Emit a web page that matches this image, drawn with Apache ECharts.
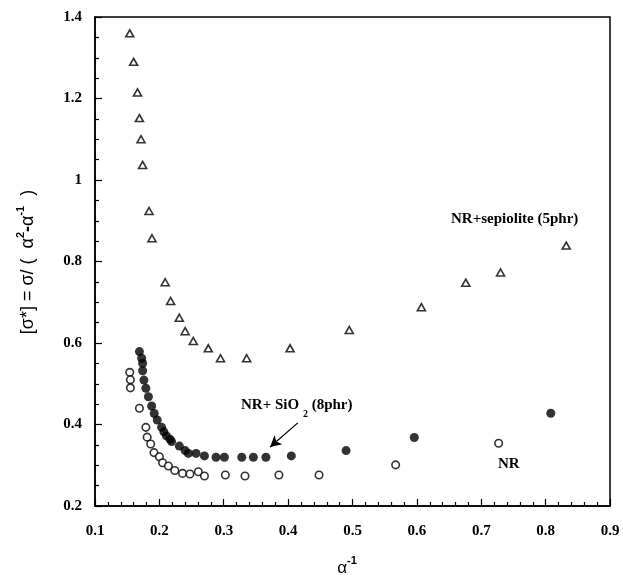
<!DOCTYPE html>
<html><head><meta charset="utf-8">
<script src="https://cdn.jsdelivr.net/npm/echarts@6/dist/echarts.min.js"></script>
<style>html,body{margin:0;padding:0;background:#fff}#c{width:623px;height:586px}</style>
</head><body><div id="c"></div>
<script>
// NR + sepiolite (5phr) — open triangles
const sepX = [0.154, 0.160, 0.166, 0.169, 0.1715, 0.174, 0.184, 0.1885, 0.209, 0.2175, 0.231, 0.240, 0.2527, 0.276, 0.295, 0.3356, 0.403, 0.495, 0.607, 0.676, 0.730, 0.832];
const sepY = [1.36, 1.29, 1.215, 1.152, 1.10, 1.037, 0.924, 0.857, 0.749, 0.703, 0.662, 0.629, 0.605, 0.587, 0.5625, 0.5625, 0.587, 0.632, 0.688, 0.748, 0.773, 0.839];
// NR + SiO2 (8phr) — filled circles
const siX = [0.169, 0.1725, 0.174, 0.174, 0.176, 0.179, 0.183, 0.188, 0.192, 0.1967, 0.2035, 0.207, 0.211, 0.2165, 0.219, 0.231, 0.240, 0.245, 0.257, 0.270, 0.288, 0.301, 0.328, 0.346, 0.3655, 0.405, 0.490, 0.596, 0.808];
const siY = [0.579, 0.5625, 0.550, 0.532, 0.509, 0.489, 0.468, 0.4455, 0.427, 0.411, 0.393, 0.382, 0.372, 0.364, 0.358, 0.347, 0.336, 0.329, 0.329, 0.323, 0.3195, 0.3195, 0.3195, 0.3195, 0.3195, 0.323, 0.336, 0.368, 0.4275];
// NR — open circles
const nrX = [0.154, 0.155, 0.155, 0.169, 0.179, 0.181, 0.1865, 0.1916, 0.200, 0.205, 0.214, 0.224, 0.236, 0.2475, 0.2605, 0.270, 0.3025, 0.333, 0.3857, 0.448, 0.567, 0.727];
const nrY = [0.528, 0.510, 0.490, 0.440, 0.393, 0.369, 0.352, 0.331, 0.321, 0.3063, 0.298, 0.287, 0.280, 0.2785, 0.284, 0.2736, 0.276, 0.2736, 0.276, 0.276, 0.301, 0.354];
// axis ticks
const xTicks = [0.1, 0.2, 0.3, 0.4, 0.5, 0.6, 0.7, 0.8, 0.9];
const yTicks = [0.2, 0.4, 0.6, 0.8, 1, 1.2, 1.4];
// arrow annotation (data coords)
const arrowFrom = [0.415, 0.404];
const arrowTo = [0.372, 0.345];

const zip = (xs, ys) => xs.map((x, i) => [x, ys[i]]);
const serif = 'Liberation Serif';
const sans = 'Liberation Sans';
const chart = echarts.init(document.getElementById('c'));
const tickLbl = {color: '#000', fontFamily: serif, fontWeight: 'bold', fontSize: 15};
chart.setOption({
  animation: false,
  backgroundColor: '#fff',
  grid: {left: 95, right: 13, top: 17, bottom: 80, show: true, borderColor: '#000', borderWidth: 1.5, backgroundColor: 'transparent'},
  xAxis: {
    type: 'value', min: xTicks[0], max: xTicks[xTicks.length - 1], interval: 0.1,
    axisLine: {lineStyle: {color: '#000', width: 1.5}},
    axisTick: {inside: true, length: 7, lineStyle: {color: '#000', width: 1.2}},
    minorTick: {show: true, splitNumber: 5, length: 4, lineStyle: {color: '#000', width: 1.2}},
    splitLine: {show: false},
    axisLabel: Object.assign({margin: 18, formatter: v => String(+v.toFixed(1))}, tickLbl)
  },
  yAxis: {
    type: 'value', min: yTicks[0], max: yTicks[yTicks.length - 1], interval: 0.2,
    axisLine: {lineStyle: {color: '#000', width: 1.5}},
    axisTick: {inside: true, length: 7, lineStyle: {color: '#000', width: 1.2}},
    minorTick: {show: true, splitNumber: 4, length: 4, lineStyle: {color: '#000', width: 1.2}},
    splitLine: {show: false},
    axisLabel: Object.assign({margin: 13, formatter: v => String(+v.toFixed(1))}, tickLbl)
  },
  series: [
    {type: 'scatter', name: 'NR+sepiolite (5phr)', data: zip(sepX, sepY), symbol: 'triangle', symbolSize: [8, 7],
     itemStyle: {color: '#fff', borderColor: '#000', borderWidth: 1.6}},
    {type: 'scatter', name: 'NR', data: zip(nrX, nrY), symbol: 'circle', symbolSize: 7.5,
     itemStyle: {color: '#fff', borderColor: '#000', borderWidth: 1.6}},
    {type: 'scatter', name: 'NR+ SiO2 (8phr)', data: zip(siX, siY), symbol: 'circle', symbolSize: 9,
     itemStyle: {color: '#000', borderColor: '#000', borderWidth: 0},
     markLine: {silent: true, symbol: ['none', 'arrow'], symbolSize: [9, 11], label: {show: false},
       lineStyle: {color: '#000', width: 1.3, type: 'solid'},
       data: [[{coord: arrowFrom}, {coord: arrowTo}]]}}
  ],
  graphic: [
    {type: 'text', left: 451, top: 212, style: {text: 'NR+sepiolite (5phr)', fill: '#000', font: 'bold 15px "Liberation Serif"'}},
    {type: 'text', left: 241, top: 398, style: {
      text: '{b|NR+ SiO }{s|2}{b| (8phr)}', fill: '#000',
      rich: {b: {fontFamily: serif, fontWeight: 'bold', fontSize: 15, fill: '#000', lineHeight: 20},
             s: {fontFamily: serif, fontWeight: 'bold', fontSize: 10, fill: '#000', padding: [18, 0, 0, 0]}}}},
    {type: 'text', left: 498, top: 457, style: {text: 'NR', fill: '#000', font: 'bold 15px "Liberation Serif"'}},
    {type: 'text', x: 28, y: 262, rotation: Math.PI / 2, style: {
      text: '{a|[σ*] = σ/ (  α}{s|2}{b|-}{a|α}{s|-1}{a|  )}', align: 'center', verticalAlign: 'middle',
      rich: {a: {fontFamily: sans, fontSize: 18, fill: '#000', lineHeight: 22},
             b: {fontFamily: sans, fontSize: 18, fontWeight: 'bold', fill: '#000'},
             s: {fontFamily: sans, fontSize: 11, fontWeight: 'bold', fill: '#000', padding: [0, 0, 15, 0]}}}},
    {type: 'text', x: 347, y: 568, style: {
      text: '{a|α}{s|-1}', align: 'center', verticalAlign: 'middle',
      rich: {a: {fontFamily: sans, fontSize: 17, fill: '#000', lineHeight: 22},
             s: {fontFamily: sans, fontSize: 11, fontWeight: 'bold', fill: '#000', padding: [0, 0, 14, 0]}}}}
  ]
});
</script></body></html>
